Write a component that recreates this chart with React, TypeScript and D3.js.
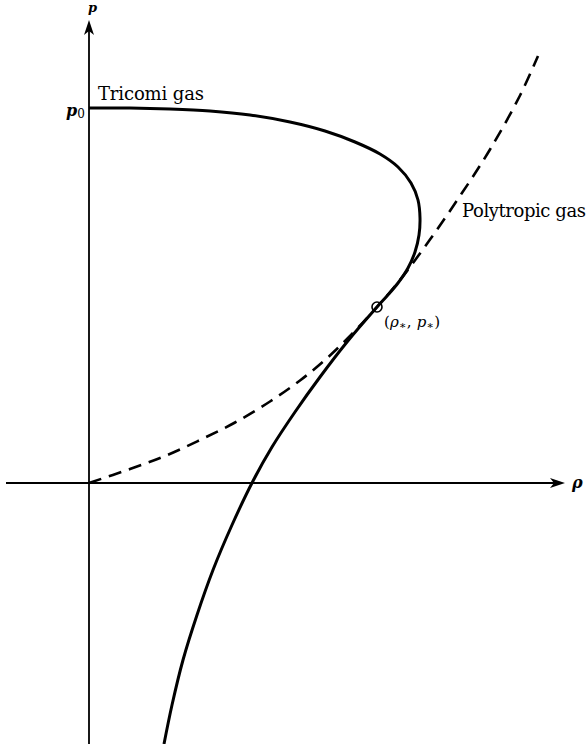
import * as d3 from "d3";
import { useEffect, useRef } from "react";

const ancho = 588;
const alto = 744;

// curva del gas de Tricomi (rho, p)
const tricomiRho = [0, 0.41, 0.81, 1.21, 1.61, 2.01, 2.36, 2.66, 2.91, 3.09, 3.22, 3.29, 3.31, 3.3, 3.26, 3.19, 3.09, 2.98, 2.88, 2.58, 2.31, 2.06, 1.83, 1.64, 1.43, 1.24, 1.08, 0.94, 0.83, 0.75];
const tricomiP = [3.75, 3.75, 3.74, 3.72, 3.68, 3.61, 3.52, 3.41, 3.29, 3.16, 3.0, 2.83, 2.65, 2.48, 2.31, 2.15, 2.0, 1.87, 1.76, 1.41, 1.06, 0.71, 0.36, 0.02, -0.42, -0.87, -1.32, -1.77, -2.22, -2.61];

// gas politrópico (línea discontinua)
const politropRho = [0, 0.41, 0.76, 1.11, 1.46, 1.81, 2.11, 2.36, 2.61, 2.88, 3.11, 3.41, 3.71, 4.01, 4.31, 4.49];
const politropP = [0, 0.14, 0.27, 0.43, 0.605, 0.815, 1.025, 1.23, 1.47, 1.76, 2.03, 2.435, 2.87, 3.335, 3.875, 4.27];

const puntoSonico = { rho: 2.88, p: 1.76 };
const p0 = 3.75;
const ejeRho = [-0.83, 4.76];
const ejeP = [-2.61, 4.63];

const fuente = "'DejaVu Serif', 'Liberation Serif', serif";

const App = () => {
  const ref = useRef(null);

  useEffect(() => {
    if (!ref.current) return;
    const svg = d3.select(ref.current);
    svg.selectAll("*").remove();

    const x = d3.scaleLinear().domain([0, 1]).range([89, 189]);
    const y = d3.scaleLinear().domain([0, 1]).range([483, 383]);

    // ejes
    svg
      .append("line")
      .attr("x1", x(ejeRho[0]))
      .attr("x2", x(ejeRho[1]) - 8)
      .attr("y1", y(0))
      .attr("y2", y(0))
      .attr("stroke", "#000")
      .attr("stroke-width", 1.8);
    svg
      .append("line")
      .attr("x1", x(0))
      .attr("x2", x(0))
      .attr("y1", y(ejeP[0]))
      .attr("y2", y(ejeP[1]) + 8)
      .attr("stroke", "#000")
      .attr("stroke-width", 1.8);

    // flechas
    const xf = x(ejeRho[1]);
    svg
      .append("path")
      .attr("d", `M${xf},${y(0)} L${xf - 15},${y(0) - 5} L${xf - 11},${y(0)} L${xf - 15},${y(0) + 5} Z`)
      .attr("fill", "#000");
    const yf = y(ejeP[1]);
    svg
      .append("path")
      .attr("d", `M${x(0)},${yf} L${x(0) - 5},${yf + 15} L${x(0)},${yf + 11} L${x(0) + 5},${yf + 15} Z`)
      .attr("fill", "#000");

    const linea = d3
      .line()
      .x((d) => x(d[0]))
      .y((d) => y(d[1]))
      .curve(d3.curveCatmullRom.alpha(0.5));

    svg
      .append("path")
      .datum(politropRho.map((r, i) => [r, politropP[i]]))
      .attr("d", linea)
      .attr("fill", "none")
      .attr("stroke", "#000")
      .attr("stroke-width", 2.6)
      .attr("stroke-dasharray", "13,8");

    svg
      .append("path")
      .datum(tricomiRho.map((r, i) => [r, tricomiP[i]]))
      .attr("d", linea)
      .attr("fill", "none")
      .attr("stroke", "#000")
      .attr("stroke-width", 3);

    // punto sónico: círculo hueco, la curva se ve a través
    svg
      .append("circle")
      .attr("cx", x(puntoSonico.rho))
      .attr("cy", y(puntoSonico.p))
      .attr("r", 5)
      .attr("fill", "none")
      .attr("stroke", "#000")
      .attr("stroke-width", 1.6);

    // textos
    const t = svg.append("g").attr("font-family", fuente).attr("fill", "#000");

    t.append("text")
      .attr("x", x(0) - 1)
      .attr("y", 12)
      .attr("font-size", 13)
      .attr("font-weight", "bold")
      .attr("font-style", "italic")
      .text("p");

    const etiquetaP0 = t
      .append("text")
      .attr("x", x(0) - 23)
      .attr("y", y(p0) + 8)
      .attr("font-size", 16)
      .attr("font-weight", "bold")
      .attr("font-style", "italic");
    etiquetaP0.append("tspan").text("p");
    etiquetaP0
      .append("tspan")
      .attr("font-size", 12)
      .attr("font-style", "normal")
      .attr("font-weight", "normal")
      .attr("dy", 2)
      .text("0");

    t.append("text")
      .attr("x", x(0) + 9)
      .attr("y", y(p0) - 8)
      .attr("font-size", 18)
      .attr("textLength", 106)
      .text("Tricomi gas");

    t.append("text")
      .attr("x", 462)
      .attr("y", 217)
      .attr("font-size", 18)
      .attr("textLength", 124)
      .text("Polytropic gas");

    const etiquetaPunto = t
      .append("text")
      .attr("x", x(puntoSonico.rho) + 7)
      .attr("y", y(puntoSonico.p) + 20)
      .attr("font-size", 15)
      .attr("textLength", 56);
    etiquetaPunto.append("tspan").text("(");
    etiquetaPunto.append("tspan").attr("font-style", "italic").text("ρ");
    etiquetaPunto.append("tspan").attr("font-size", 11).attr("dy", 2).text("∗");
    etiquetaPunto.append("tspan").attr("dy", -2).text(", ");
    etiquetaPunto.append("tspan").attr("font-style", "italic").text("p");
    etiquetaPunto.append("tspan").attr("font-size", 11).attr("dy", 2).text("∗");
    etiquetaPunto.append("tspan").attr("dy", -2).text(")");

    t.append("text")
      .attr("x", x(ejeRho[1]) + 7)
      .attr("y", y(0) + 5)
      .attr("font-size", 16)
      .attr("font-weight", "bold")
      .attr("font-style", "italic")
      .text("ρ");
  }, []);

  return (
    <svg
      ref={ref}
      width={ancho}
      height={alto}
      style={{ position: "absolute", left: 0, top: 0, background: "#fff" }}
    />
  );
};

export default App;
